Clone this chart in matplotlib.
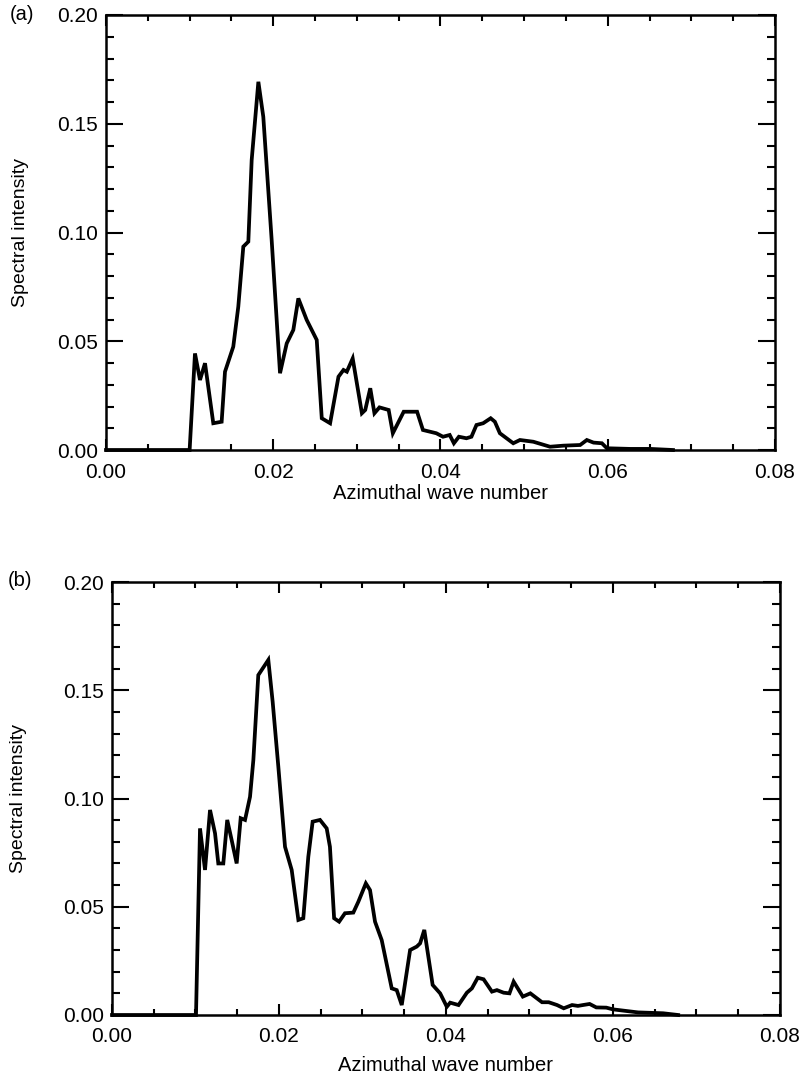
import numpy as np
import matplotlib
matplotlib.use("Agg")
import matplotlib.pyplot as plt
from matplotlib.ticker import MultipleLocator, FormatStrFormatter

plt.rcParams['font.family'] = ['Liberation Sans', 'DejaVu Sans']

# panel (a): azimuthal wave number vs spectral intensity
k_a = [0.0, 0.0100, 0.01064, 0.01124, 0.01184, 0.01283, 0.01383, 0.01423, 0.01522,
       0.01582, 0.01642, 0.01702, 0.01742, 0.01822, 0.01881, 0.01981, 0.02081,
       0.02161, 0.02240, 0.0230, 0.0240, 0.0252, 0.0258, 0.0268, 0.0278, 0.0284,
       0.0288, 0.0295, 0.0306, 0.0310, 0.0316, 0.0321, 0.0327, 0.0338, 0.0343,
       0.0356, 0.0372, 0.0379, 0.0395, 0.0403, 0.0411, 0.0416, 0.0422, 0.0431,
       0.0437, 0.0443, 0.0451, 0.0460, 0.0465, 0.0471, 0.0487, 0.0495, 0.0511,
       0.0531, 0.0547, 0.0567, 0.0575, 0.0583, 0.0593, 0.0599, 0.0627, 0.0651,
       0.0678]
s_a = [0.0, 0.0, 0.0444, 0.0322, 0.0399, 0.0123, 0.0130, 0.0360, 0.0475,
       0.0659, 0.0935, 0.0958, 0.1333, 0.1693, 0.1532, 0.0966, 0.0353,
       0.0490, 0.0552, 0.0697, 0.0598, 0.0506, 0.0146, 0.0123, 0.0337, 0.0368,
       0.0360, 0.0421, 0.0169, 0.0184, 0.0284, 0.0169, 0.0196, 0.0184, 0.0077,
       0.0176, 0.0176, 0.0092, 0.0077, 0.0061, 0.0069, 0.0031, 0.0061, 0.0054,
       0.0061, 0.0115, 0.0123, 0.0146, 0.0130, 0.0077, 0.0031, 0.0046, 0.0038,
       0.0015, 0.0020, 0.0023, 0.0046, 0.0034, 0.0031, 0.0008, 0.0005, 0.0005,
       0.0]

# panel (b)
k_b = [0.0, 0.01006, 0.01054, 0.01114, 0.01174, 0.01234, 0.01273, 0.01333, 0.0138,
       0.01433, 0.01493, 0.01541, 0.01593, 0.01653, 0.01693, 0.01752, 0.01872,
       0.01924, 0.01992, 0.02072, 0.02152, 0.02232, 0.02291, 0.02351, 0.02403,
       0.02491, 0.02571, 0.0261, 0.0266, 0.0272, 0.0279, 0.0289, 0.0295, 0.0304,
       0.0309, 0.0315, 0.0323, 0.0335, 0.0341, 0.0347, 0.0357, 0.0365, 0.0369,
       0.0374, 0.0384, 0.0393, 0.0401, 0.0405, 0.0415, 0.0425, 0.0431, 0.0438,
       0.0445, 0.0455, 0.0461, 0.0469, 0.0476, 0.0481, 0.0492, 0.0501, 0.0515,
       0.0523, 0.0533, 0.0541, 0.0551, 0.0558, 0.0564, 0.0572, 0.0580, 0.0592,
       0.0600, 0.0630, 0.0660, 0.0678]
s_b = [0.0, 0.0, 0.0862, 0.0670, 0.0947, 0.0839, 0.0700, 0.0700, 0.0901,
       0.0808, 0.0700, 0.0909, 0.0901, 0.1008, 0.1178, 0.1570, 0.1640,
       0.1447, 0.1147, 0.0777, 0.0670, 0.0439, 0.0447, 0.0731, 0.0893,
       0.0901, 0.0862, 0.0777, 0.0447, 0.0431, 0.0470, 0.0473, 0.0523, 0.0608,
       0.0577, 0.0431, 0.0346, 0.0123, 0.0115, 0.0046, 0.0300, 0.0316, 0.0331,
       0.0393, 0.0139, 0.0100, 0.0038, 0.0057, 0.0046, 0.0103, 0.0123, 0.0172,
       0.0165, 0.0108, 0.0115, 0.0103, 0.0100, 0.0154, 0.0085, 0.0100, 0.0059,
       0.0059, 0.0046, 0.0031, 0.0046, 0.0042, 0.0046, 0.0051, 0.0035, 0.0034,
       0.0026, 0.0012, 0.0008, 0.0]

fig = plt.figure(figsize=(8.04, 10.8), dpi=100)
ax_a = fig.add_axes([106/804, 1 - 450/1080, 669/804, 435/1080])
ax_b = fig.add_axes([112/804, 1 - 1015/1080, 668/804, 433/1080])


def style(ax, k, s, ylab_x, xpad):
    ax.plot(k, s, color="black", lw=2.7, solid_joinstyle="miter", clip_on=False)
    ax.set_xlim(0, 0.08)
    ax.set_ylim(0, 0.20)
    ax.xaxis.set_major_locator(MultipleLocator(0.02))
    ax.xaxis.set_minor_locator(MultipleLocator(0.005))
    ax.yaxis.set_major_locator(MultipleLocator(0.05))
    ax.yaxis.set_minor_locator(MultipleLocator(0.01))
    ax.xaxis.set_major_formatter(FormatStrFormatter("%.2f"))
    ax.yaxis.set_major_formatter(FormatStrFormatter("%.2f"))
    ax.tick_params(axis="x", which="major", direction="in", length=8, width=1.5,
                   top=True, labelsize=15, pad=9)
    ax.tick_params(axis="x", which="minor", direction="in", length=4, width=1.5, top=True)
    ax.tick_params(axis="y", which="major", direction="in", length=12, width=1.5,
                   right=True, labelsize=15, pad=6)
    ax.tick_params(axis="y", which="minor", direction="in", length=6, width=1.5, right=True)
    for sp in ax.spines.values():
        sp.set_linewidth(1.8)
    ax.set_xlabel("Azimuthal wave number", fontsize=14.5, labelpad=xpad)
    ax.set_ylabel("Spectral intensity", fontsize=14)
    ax.yaxis.set_label_coords(ylab_x, 0.5)


style(ax_a, k_a, s_a, -0.115, 1.5)
style(ax_b, k_b, s_b, -0.127, 7)

fig.text(22/804, 1 - 15/1080, "(a)", fontsize=14.5, ha="center", va="center")
fig.text(20/804, 1 - 580/1080, "(b)", fontsize=14.5, ha="center", va="center")

fig.savefig("out.png", dpi=100)
